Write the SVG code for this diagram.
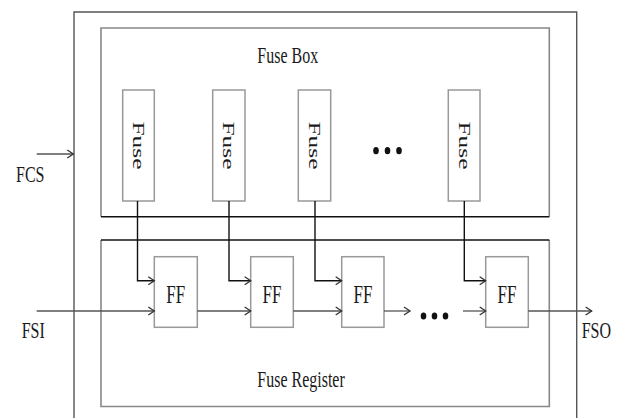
<svg xmlns="http://www.w3.org/2000/svg" width="621" height="418" viewBox="0 0 621 418">
<defs>
<marker id="ah" markerWidth="10" markerHeight="10" refX="7" refY="5" orient="auto" markerUnits="userSpaceOnUse">
<path d="M1,1 L7,5 L1,9" fill="none" stroke="#333" stroke-width="1.3"/>
</marker>
<style>
.t{font-family:"Liberation Serif","Times New Roman",serif;font-size:16px;fill:#1a1a1a}
.tf{font-family:"Liberation Serif","Times New Roman",serif;font-size:17px;fill:#1a1a1a}
.box{fill:#fff;stroke:#999;stroke-width:1.5}
.frame{fill:none;stroke:#888;stroke-width:1.6}
.wire{fill:none;stroke:#111;stroke-width:1.4}
.data{fill:none;stroke:#555;stroke-width:1.3}
.dot{fill:#111}
</style>
</defs>
<rect width="621" height="418" fill="#fff"/>
<g id="outer">
<path d="M74,420 V12 H576.7 V420" fill="none" stroke="#555" stroke-width="1.4"/>
</g>
<g id="fusebox">
<path class="frame" d="M101,216.7 V28 H549.3 V216.7"/>
<line x1="101" y1="216.7" x2="549.3" y2="216.7" stroke="#111" stroke-width="1.4"/>
<text class="t" transform="translate(257.3,62.7) scale(1,1.5)">Fuse Box</text>
</g>
<g id="fuseregister">
<path class="frame" d="M101,240 V406.5 H549.3 V240"/>
<line x1="101" y1="240" x2="549.3" y2="240" stroke="#111" stroke-width="1.4"/>
<text class="t" transform="translate(257.3,386.7) scale(1,1.5)">Fuse Register</text>
</g>
<g id="fuse1">
<rect class="box" x="122.7" y="90" width="31.6" height="111"/>
<text class="tf" text-anchor="middle" y="5.5" transform="translate(138.5,145.5) scale(1,1.5) rotate(90)">Fuse</text>
</g>
<g id="fuse2">
<rect class="box" x="212.7" y="90" width="32.3" height="111"/>
<text class="tf" text-anchor="middle" y="5.5" transform="translate(228.8,145.5) scale(1,1.5) rotate(90)">Fuse</text>
</g>
<g id="fuse3">
<rect class="box" x="298.3" y="90" width="32.4" height="111"/>
<text class="tf" text-anchor="middle" y="5.5" transform="translate(314.5,145.5) scale(1,1.5) rotate(90)">Fuse</text>
</g>
<g id="fuse4">
<rect class="box" x="448.3" y="90" width="31.7" height="111"/>
<text class="tf" text-anchor="middle" y="5.5" transform="translate(464.2,145.5) scale(1,1.5) rotate(90)">Fuse</text>
</g>
<g id="fusedots">
<ellipse class="dot" cx="376" cy="150.7" rx="2.8" ry="3.6"/>
<ellipse class="dot" cx="387.5" cy="150.7" rx="2.8" ry="3.6"/>
<ellipse class="dot" cx="399" cy="150.7" rx="2.8" ry="3.6"/>
</g>
<g id="ff1">
<rect class="box" x="154.3" y="256.7" width="43" height="70.6"/>
<text class="tf" text-anchor="middle" transform="translate(175.8,302.5) scale(1,1.5)">FF</text>
</g>
<g id="ff2">
<rect class="box" x="250.7" y="256.7" width="42.6" height="70.6"/>
<text class="tf" text-anchor="middle" transform="translate(272,302.5) scale(1,1.5)">FF</text>
</g>
<g id="ff3">
<rect class="box" x="341.7" y="256.7" width="42.3" height="70.6"/>
<text class="tf" text-anchor="middle" transform="translate(362.9,302.5) scale(1,1.5)">FF</text>
</g>
<g id="ff4">
<rect class="box" x="485.7" y="256.7" width="42.6" height="70.6"/>
<text class="tf" text-anchor="middle" transform="translate(507,302.5) scale(1,1.5)">FF</text>
</g>
<g id="regdots">
<ellipse class="dot" cx="423.5" cy="316" rx="2.8" ry="3.6"/>
<ellipse class="dot" cx="434.5" cy="316" rx="2.8" ry="3.6"/>
<ellipse class="dot" cx="445.5" cy="316" rx="2.8" ry="3.6"/>
</g>
<g id="labels">
<text class="t" transform="translate(16,182.3) scale(1,1.5)">FCS</text>
<text class="t" transform="translate(21.7,338.3) scale(1,1.5)">FSI</text>
<text class="t" transform="translate(581.7,338.3) scale(1,1.5)">FSO</text>
</g>
<g id="connectors">
<line class="data" x1="36.7" y1="154" x2="73.3" y2="154" marker-end="url(#ah)"/>
<path class="wire" d="M137.5,201 V280.7 H154.3" marker-end="url(#ah)"/>
<path class="wire" d="M229,201 V280.7 H250.7" marker-end="url(#ah)"/>
<path class="wire" d="M315,201 V280.7 H341.7" marker-end="url(#ah)"/>
<path class="wire" d="M464.3,201 V280.7 H485.7" marker-end="url(#ah)"/>
<line class="data" x1="36.7" y1="311" x2="154.3" y2="311" marker-end="url(#ah)"/>
<line class="data" x1="197.3" y1="311" x2="250.7" y2="311" marker-end="url(#ah)"/>
<line class="data" x1="293.3" y1="311" x2="341.7" y2="311" marker-end="url(#ah)"/>
<line class="data" x1="384" y1="311" x2="410" y2="311" marker-end="url(#ah)"/>
<line class="data" x1="463" y1="311" x2="485.7" y2="311" marker-end="url(#ah)"/>
<line class="data" x1="528.3" y1="311" x2="591.7" y2="311" marker-end="url(#ah)"/>
</g>
</svg>
